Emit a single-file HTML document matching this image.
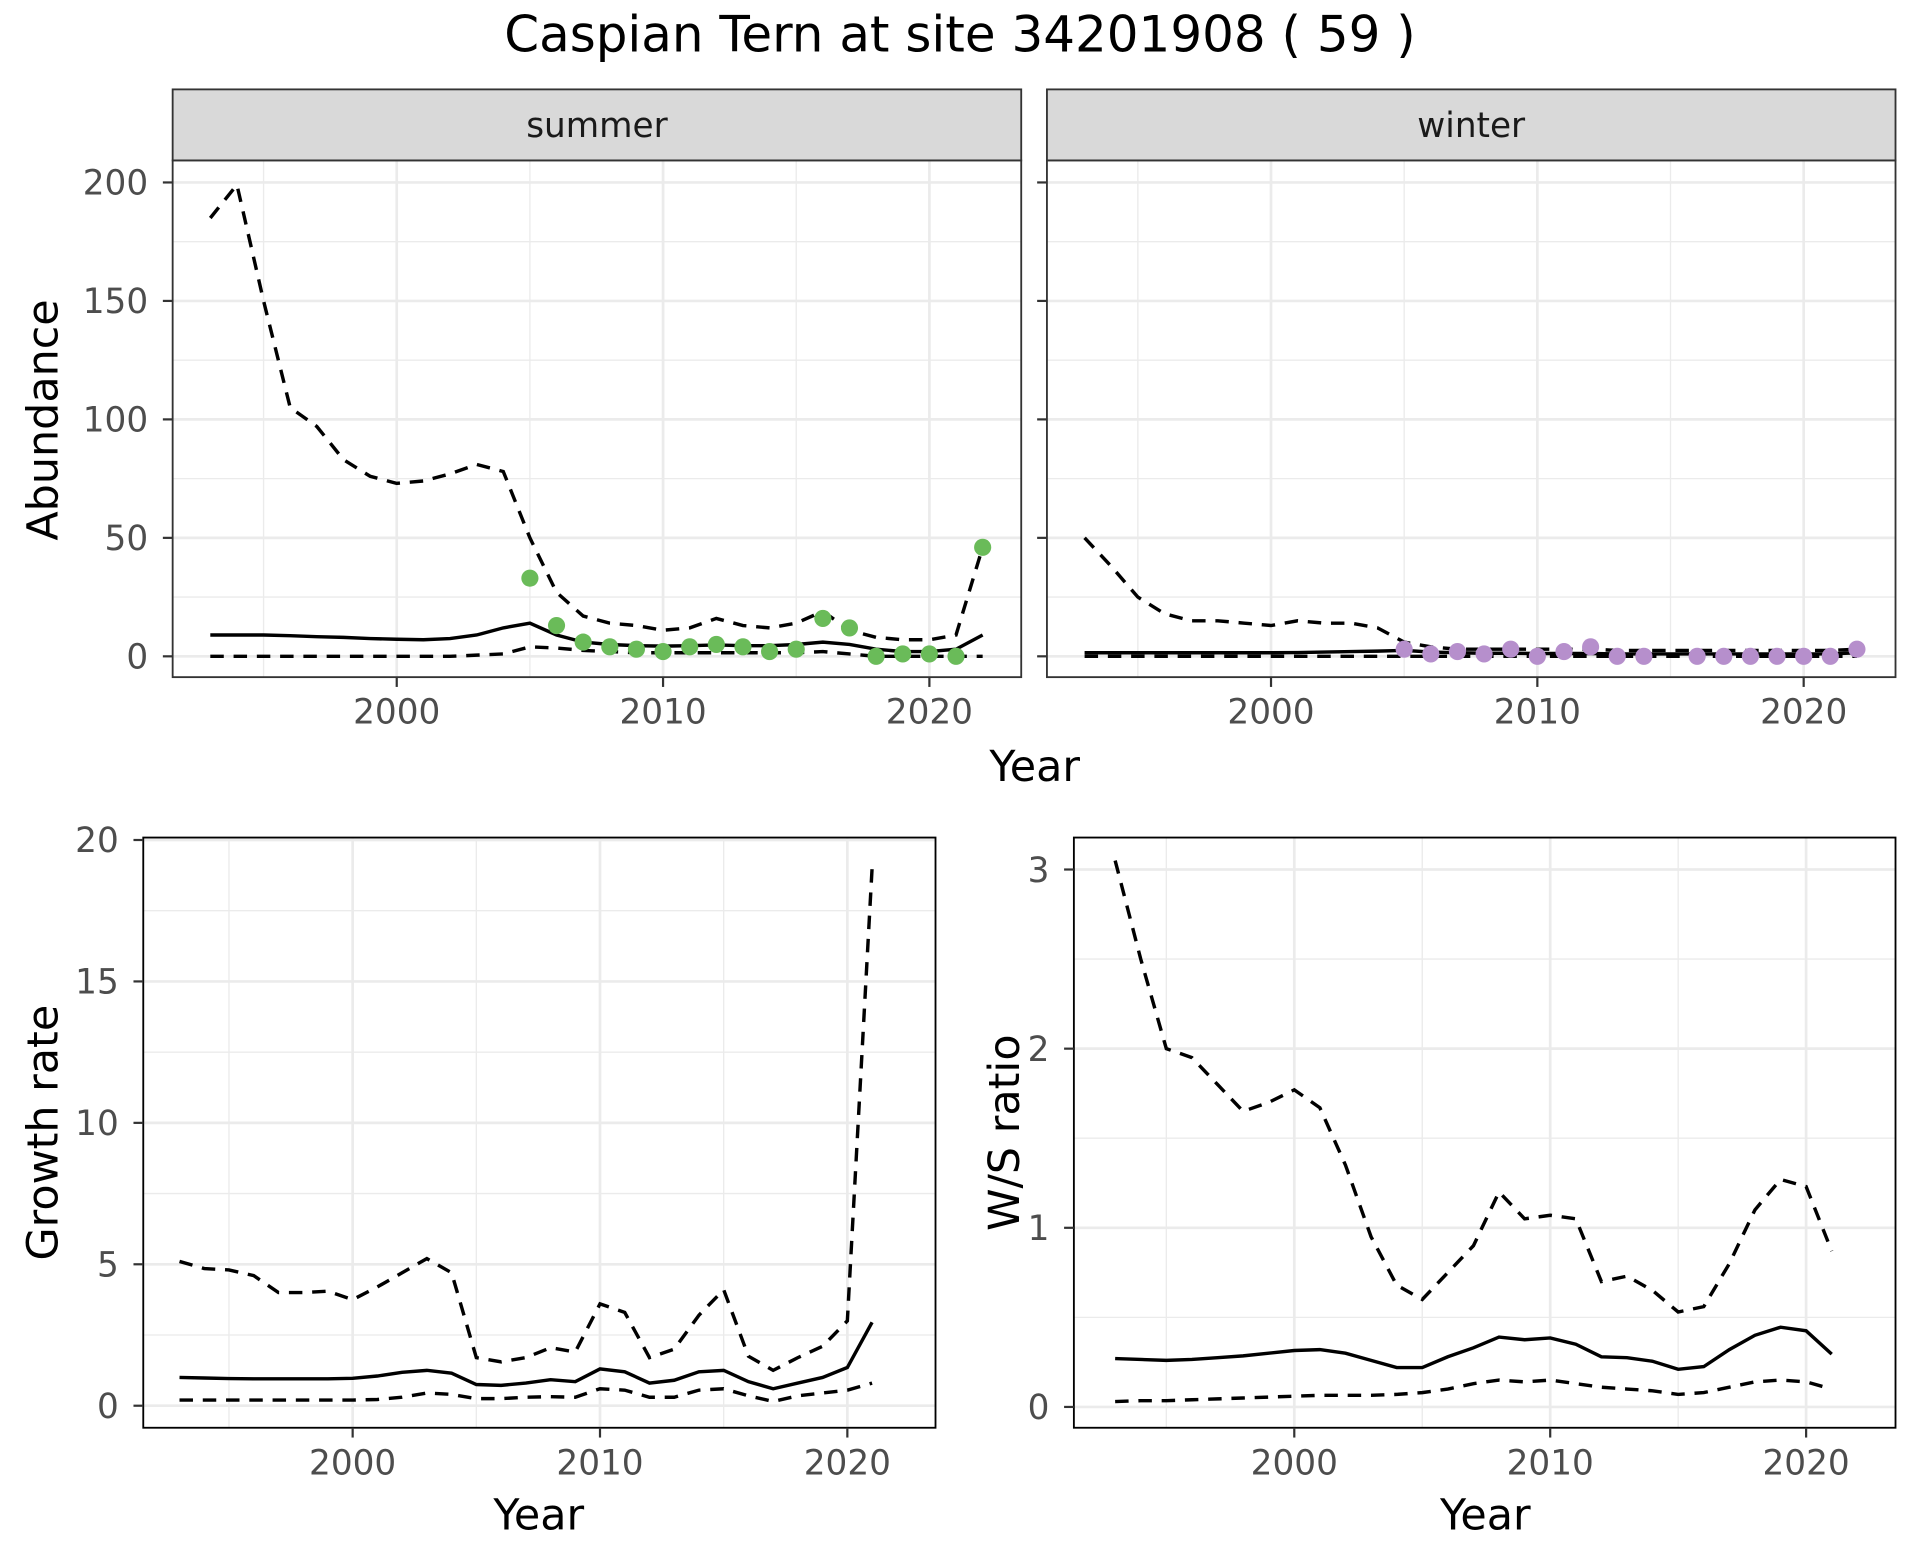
<!DOCTYPE html>
<html><head><meta charset="utf-8"><style>
html,body{margin:0;padding:0;background:#fff;}
svg{display:block;font-family:"DejaVu Sans","Liberation Sans",sans-serif;}
</style></head><body>
<svg id="chart" width="1920" height="1560" viewBox="0 0 1568 1274" xmlns="http://www.w3.org/2000/svg">
<text x="784" y="42" font-size="40.8" text-anchor="middle" fill="#000">Caspian Tern at site 34201908 ( 59 )</text>
</svg>
<script>
const absYears = [1993,1994,1995,1996,1997,1998,1999,2000,2001,2002,2003,2004,2005,2006,2007,2008,2009,2010,2011,2012,2013,2014,2015,2016,2017,2018,2019,2020,2021,2022];
const summerUpper = [185,199,150,105,97,83,76,73,74,77,81,78,50,27,17,14,13,11,12,16,13,12,14,19,11,8,7,7,9,46];
const summerMid = [9,9,9,8.7,8.3,8,7.5,7.2,7,7.5,9,12,14,9,6,5,4.5,4.3,4.5,4.8,4.5,4.5,5,6,5,3,2,2,3,9];
const summerLower = [0,0,0,0,0,0,0,0,0,0,0.5,1,4,3.5,2.5,2,1.5,1.5,1.5,1.5,1.5,1.5,1.5,2,1,0,0,0,0,0];
const summerPtYears = [2005,2006,2007,2008,2009,2010,2011,2012,2013,2014,2015,2016,2017,2018,2019,2020,2021,2022];
const summerPts = [33,13,6,4,3,2,4,5,4,2,3,16,12,0,1,1,0,46];
const winterUpper = [50,38,25,18,15,15,14,13,15,14,14,12,6,4,3,3,3,3,3,3,2.5,2.5,2.5,2.5,2.5,2.5,2.5,2.5,2.5,3];
const winterMid = [1.5,1.5,1.5,1.5,1.5,1.5,1.5,1.5,1.6,1.8,2,2.2,2.5,1.8,1.5,1.3,1.3,1.2,1.2,1.2,1,1,1,1,1,1,1,1,1,1.5];
const winterLower = [0,0,0,0,0,0,0,0,0,0,0,0,0,0,0,0,0,0,0,0,0,0,0,0,0,0,0,0,0,0];
const winterPtYears = [2005,2006,2007,2008,2009,2010,2011,2012,2013,2014,2016,2017,2018,2019,2020,2021,2022];
const winterPts = [3,1,2,1,3,0,2,4,0,0,0,0,0,0,0,0,3];
const rateYears = [1993,1994,1995,1996,1997,1998,1999,2000,2001,2002,2003,2004,2005,2006,2007,2008,2009,2010,2011,2012,2013,2014,2015,2016,2017,2018,2019,2020,2021];
const growthUpper = [5.1,4.85,4.8,4.6,4.0,4.0,4.05,3.75,4.2,4.7,5.2,4.7,1.7,1.55,1.7,2.05,1.9,3.6,3.3,1.7,2.0,3.2,4.1,1.75,1.25,1.7,2.1,3.0,19.0];
const growthMid = [1.0,0.98,0.96,0.95,0.95,0.95,0.95,0.97,1.05,1.18,1.25,1.15,0.75,0.72,0.8,0.92,0.85,1.3,1.2,0.8,0.9,1.2,1.25,0.85,0.6,0.8,1.0,1.35,2.95];
const growthLower = [0.2,0.2,0.2,0.2,0.2,0.2,0.2,0.2,0.22,0.3,0.45,0.4,0.25,0.25,0.3,0.32,0.3,0.6,0.55,0.3,0.3,0.55,0.6,0.35,0.15,0.35,0.45,0.55,0.8];
const wsUpper = [3.05,2.5,2.0,1.95,1.8,1.65,1.7,1.77,1.67,1.35,0.95,0.68,0.6,0.75,0.9,1.2,1.05,1.07,1.05,0.7,0.73,0.65,0.53,0.56,0.8,1.1,1.27,1.23,0.87];
const wsMid = [0.27,0.265,0.26,0.265,0.275,0.285,0.3,0.315,0.32,0.3,0.26,0.22,0.22,0.28,0.33,0.39,0.375,0.385,0.35,0.28,0.275,0.255,0.21,0.225,0.32,0.4,0.445,0.425,0.295];
const wsLower = [0.03,0.035,0.035,0.04,0.045,0.05,0.055,0.06,0.065,0.065,0.065,0.07,0.08,0.1,0.13,0.15,0.14,0.15,0.13,0.11,0.1,0.09,0.07,0.08,0.11,0.14,0.15,0.14,0.1];
const xTicks = [2000,2010,2020];
const xMinor = [1995,2005,2015];
const absTicks = [0,50,100,150,200];
const absMinor = [25,75,125,175];
const growthTicks = [0,5,10,15,20];
const growthMinor = [2.5,7.5,12.5,17.5];
const wsTicks = [0,1,2,3];
const wsMinor = [0.5,1.5,2.5];

const svg = document.getElementById('chart');
const NS = 'http://www.w3.org/2000/svg';
function mk(tag, attrs, parent){const e=document.createElementNS(NS,tag);for(const k in attrs)e.setAttribute(k,attrs[k]);(parent||svg).appendChild(e);return e;}

function panel(name, P){
  const g = mk('g',{});
  
  
  const sx = v => P.x0 + (v - P.xa) * P.xs;
  const sy = v => P.y0 - (v - P.ya) * P.ys;
  P.xMinor.forEach(v=>{mk('line',{x1:sx(v),x2:sx(v),y1:P.top,y2:P.bot,stroke:'#ebebeb','stroke-width':1.1},g);});
  P.yMinor.forEach(v=>{mk('line',{x1:P.left,x2:P.right,y1:sy(v),y2:sy(v),stroke:'#ebebeb','stroke-width':1.1},g);});
  P.xTicks.forEach(v=>{const l=mk('line',{x1:sx(v),x2:sx(v),y1:P.top,y2:P.bot,stroke:'#ebebeb','stroke-width':2.2},g);
    });
  P.yTicks.forEach(v=>{const l=mk('line',{x1:P.left,x2:P.right,y1:sy(v),y2:sy(v),stroke:'#ebebeb','stroke-width':2.2},g);
    });
  const line=(xs,ys,dash,nm)=>{const p=mk('polyline',{points:xs.map((x,i)=>sx(x)+','+sy(ys[i])).join(' '),fill:'none',stroke:'#000','stroke-width':2.8,'stroke-dasharray':dash?'11,8':'none'},g);
    
    };
  line(P.xs_,P.lower,true,'lower-bound-line');
  line(P.xs_,P.upper,true,'upper-bound-line');
  line(P.xs_,P.mid,false,'estimate-line');
  if(P.pts){P.ptx.forEach((x,i)=>{const c=mk('circle',{cx:sx(x),cy:sy(P.pts[i]),r:7,fill:P.col},g);
    
    });}
  mk('rect',{x:P.left,y:P.top,width:P.right-P.left,height:P.bot-P.top,fill:'none',stroke:P.border,'stroke-width':1.5},g);
  P.xTicks.forEach(v=>{mk('line',{x1:sx(v),x2:sx(v),y1:P.bot,y2:P.bot+8,stroke:'#333','stroke-width':1.8},g);
    if(P.xlab){const t=mk('text',{x:sx(v),y:P.bot+38,'font-size':28,'text-anchor':'middle',fill:'#4d4d4d'},g);t.textContent=v;
    }});
  P.yTicks.forEach(v=>{mk('line',{x1:P.left-8,x2:P.left,y1:sy(v),y2:sy(v),stroke:'#333','stroke-width':1.8},g);
    if(P.ylab){const t=mk('text',{x:P.left-20,y:sy(v)+10,'font-size':28,'text-anchor':'end',fill:'#4d4d4d'},g);t.textContent=v;
    }});
  if(P.strip){mk('rect',{x:P.left,y:73,width:P.right-P.left,height:58,fill:'#d9d9d9',stroke:'#333','stroke-width':1.5},g);
    const t=mk('text',{x:(P.left+P.right)/2,y:112,'font-size':28,'text-anchor':'middle',fill:'#1a1a1a'},g);t.textContent=P.strip;
    }
}
panel('summer-panel',{left:141,right:834,top:131,bot:553,x0:324,xa:2000,xs:21.75,y0:536,ya:0,ys:1.935,
  xTicks,xMinor,yTicks:absTicks,yMinor:absMinor,xs_:absYears,upper:summerUpper,mid:summerMid,lower:summerLower,
  pts:summerPts,ptx:summerPtYears,col:'#6abb59',border:'#333',xlab:true,ylab:true,strip:'summer'});
panel('winter-panel',{left:855,right:1548,top:131,bot:553,x0:1038,xa:2000,xs:21.75,y0:536,ya:0,ys:1.935,
  xTicks,xMinor,yTicks:absTicks,yMinor:absMinor,xs_:absYears,upper:winterUpper,mid:winterMid,lower:winterLower,
  pts:winterPts,ptx:winterPtYears,col:'#b68fcc',border:'#333',xlab:true,ylab:false,strip:'winter'});
panel('growth-panel',{left:117,right:764,top:684,bot:1166,x0:288,xa:2000,xs:20.2,y0:1148,ya:0,ys:23.1,
  xTicks,xMinor,yTicks:growthTicks,yMinor:growthMinor,xs_:rateYears,upper:growthUpper,mid:growthMid,lower:growthLower,
  border:'#000',xlab:true,ylab:true});
panel('ws-ratio-panel',{left:877,right:1548,top:684,bot:1166,x0:1057,xa:2000,xs:20.9,y0:1149,ya:0,ys:146.3,
  xTicks,xMinor,yTicks:wsTicks,yMinor:wsMinor,xs_:rateYears,upper:wsUpper,mid:wsMid,lower:wsLower,
  border:'#000',xlab:true,ylab:true});
function label(txt,x,y,rot,nm){const t=mk('text',{x:x,y:y,'font-size':35,'text-anchor':'middle',fill:'#000'});
  if(rot)t.setAttribute('transform','rotate(-90 '+x+' '+y+')');t.textContent=txt;
  
  }
label('Year',845,638,false,'x-axis-title-top');
label('Abundance',47,343,true,'y-axis-title-abundance');
label('Year',440,1249,false,'x-axis-title-growth');
label('Growth rate',47,925,true,'y-axis-title-growth');
label('Year',1213,1249,false,'x-axis-title-ws');
label('W/S ratio',832,925,true,'y-axis-title-ws');
</script>
</body></html>
